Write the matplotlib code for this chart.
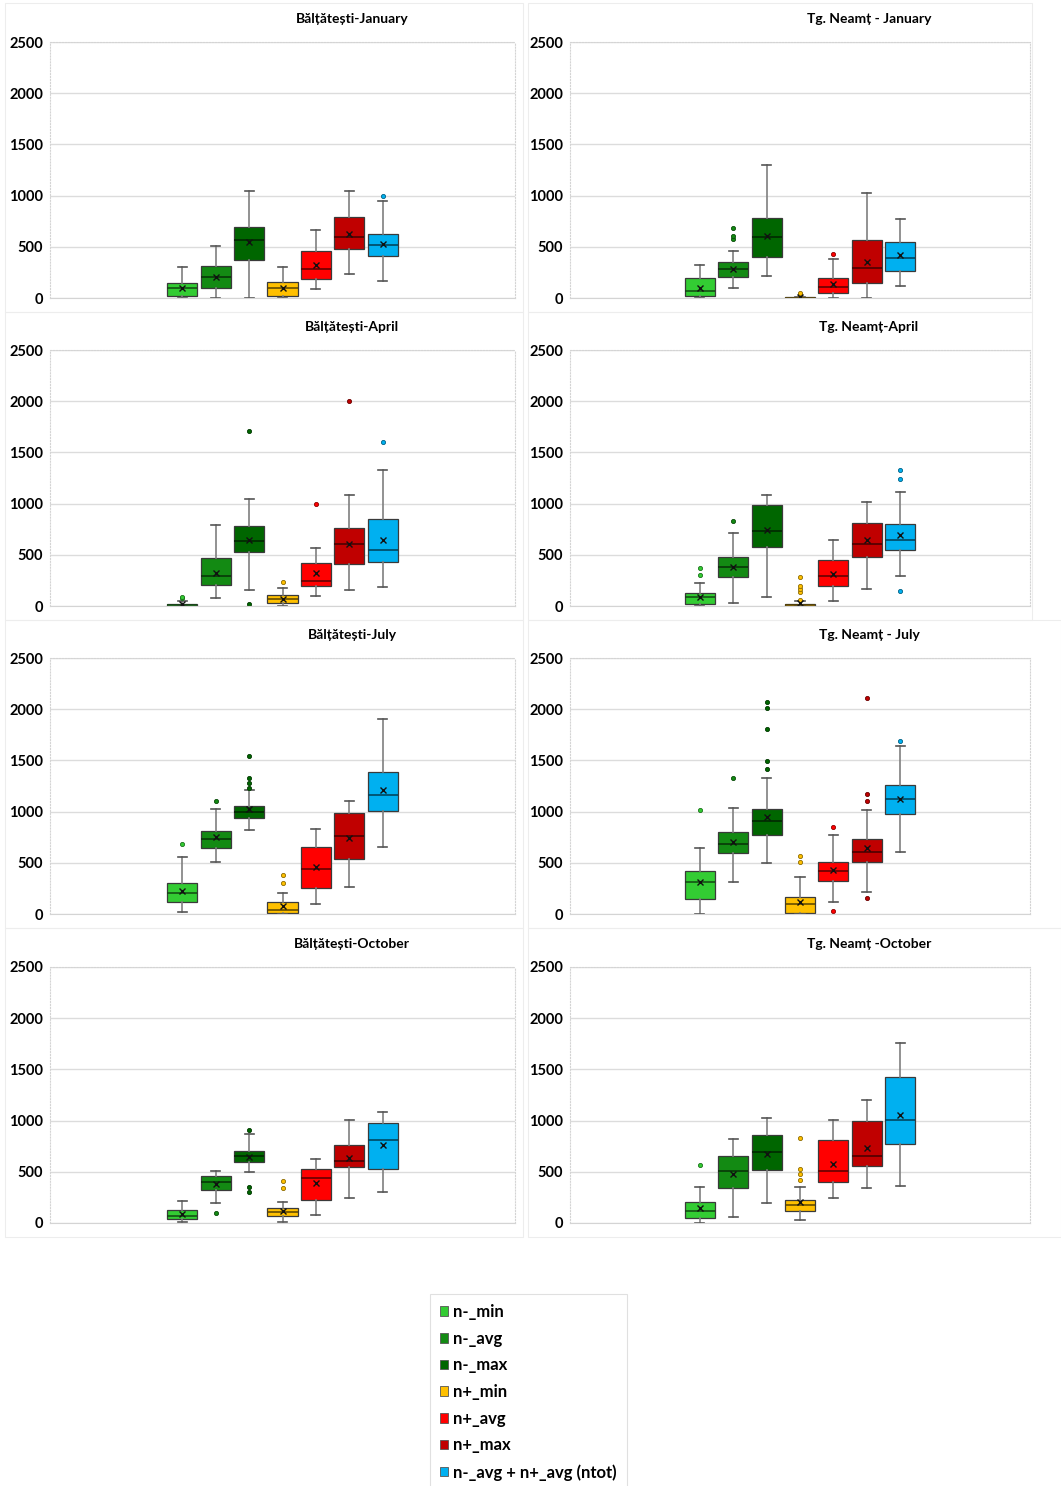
import matplotlib.pyplot as plt
from matplotlib.patches import Patch, Rectangle
from matplotlib.colors import to_rgb

plt.rcParams['font.family'] = ['Lato', 'DejaVu Sans']
plt.rcParams['font.weight'] = 'bold'

W, H = 1061, 1486

series = ['n-_min', 'n-_avg', 'n-_max', 'n+_min', 'n+_avg', 'n+_max', 'n-_avg + n+_avg (ntot)']
colors = ['#33CC33', '#138A13', '#006600', '#FFC000', '#FF0000', '#C00000', '#00B0F0']

# per series: whisker low, Q1, median, Q3, whisker high, mean
balt_jan = [[0, 23, 100, 148, 300, 97],
            [0, 94, 203, 310, 506, 206],
            [0, 371, 568, 690, 1042, 542],
            [0, 23, 97, 152, 300, 97],
            [84, 187, 281, 455, 668, 319],
            [239, 481, 597, 787, 1042, 629],
            [168, 413, 516, 629, 948, 529]]
balt_jan_out = [[], [], [], [], [], [], [994]]

neamt_jan = [[0, 16, 71, 194, 319, 100],
             [94, 203, 284, 348, 461, 287],
             [213, 400, 600, 777, 1294, 603],
             [0, 0, 0, 5, 10, 8],
             [0, 48, 106, 197, 377, 135],
             [0, 142, 290, 571, 1026, 348],
             [119, 261, 390, 542, 774, 416]]
neamt_jan_out = [[], [580, 610, 680], [], [20, 35, 45], [426], [], []]

balt_apr = [[0, 0, 5, 20, 45, 20],
            [77, 203, 297, 471, 794, 326],
            [161, 529, 636, 781, 1042, 645],
            [0, 32, 68, 103, 177, 71],
            [100, 197, 242, 416, 568, 319],
            [161, 406, 606, 761, 1084, 610],
            [187, 432, 542, 852, 1329, 648]]
balt_apr_out = [[75, 90], [], [19, 1707], [239], [997], [2006], [1603]]

neamt_apr = [[0, 23, 84, 127, 221, 91],
             [32, 279, 383, 481, 714, 383],
             [84, 578, 731, 990, 1088, 744],
             [0, 0, 10, 23, 45, 32],
             [52, 195, 289, 451, 643, 308],
             [166, 474, 604, 812, 1020, 643],
             [289, 542, 640, 796, 1117, 692]]
neamt_apr_out = [[299, 370], [828], [], [60, 136, 166, 192, 279], [], [], [149, 1237, 1325]]

balt_jul = [[23, 121, 206, 304, 556, 229],
            [510, 641, 735, 810, 1023, 748],
            [820, 941, 1000, 1059, 1212, 1026],
            [0, 13, 36, 118, 203, 75],
            [101, 255, 441, 650, 830, 461],
            [261, 536, 761, 990, 1105, 742],
            [657, 1007, 1163, 1386, 1902, 1209]]
balt_jul_out = [[683], [1105], [1235, 1281, 1327, 1542], [304, 382], [], [], []]

neamt_jul = [[0, 144, 310, 418, 644, 314],
             [317, 598, 686, 801, 1036, 699],
             [497, 775, 908, 1026, 1324, 948],
             [0, 7, 95, 163, 363, 114],
             [118, 320, 418, 503, 775, 428],
             [212, 503, 608, 732, 1016, 641],
             [605, 980, 1127, 1255, 1641, 1127]]
neamt_jul_out = [[1013], [1324], [1415, 1497, 1804, 2016, 2075], [510, 562],
                 [33, 846], [154, 1105, 1176, 2108], [1686]]

balt_oct = [[6, 36, 71, 127, 214, 84],
            [195, 321, 396, 455, 507, 377],
            [494, 597, 659, 708, 870, 649],
            [6, 68, 104, 143, 201, 120],
            [78, 221, 435, 532, 623, 393],
            [240, 542, 604, 763, 1010, 630],
            [305, 526, 812, 981, 1088, 763]]
balt_oct_out = [[], [101], [305, 347, 909], [344, 406], [], [], []]

neamt_oct = [[3, 49, 120, 205, 351, 143],
             [62, 341, 503, 653, 822, 481],
             [195, 520, 692, 860, 1029, 669],
             [32, 117, 175, 227, 351, 208],
             [240, 399, 503, 815, 1003, 575],
             [344, 555, 659, 994, 1198, 734],
             [360, 776, 1003, 1422, 1760, 1052]]
neamt_oct_out = [[571], [], [], [422, 474, 523, 831], [], [], []]

panels = [('Bălțătești-January', balt_jan, balt_jan_out),
          ('Tg. Neamț - January', neamt_jan, neamt_jan_out),
          ('Bălțătești-April', balt_apr, balt_apr_out),
          ('Tg. Neamț-April', neamt_apr, neamt_apr_out),
          ('Bălțătești-July', balt_jul, balt_jul_out),
          ('Tg. Neamț - July', neamt_jul, neamt_jul_out),
          ('Bălțătești-October', balt_oct, balt_oct_out),
          ('Tg. Neamț -October', neamt_oct, neamt_oct_out)]


def darker(c, f=0.55):
    r, g, b = to_rgb(c)
    return (r * f, g * f, b * f)


fig = plt.figure(figsize=(W / 100, H / 100), dpi=100)

# chart area frames (pixels: left, top, right, bottom)
frames = [(5, 3, 523, 312), (528, 3, 1032, 312),
          (5, 312, 523, 620), (528, 312, 1032, 620),
          (5, 620, 523, 928), (528, 620, 1061, 928),
          (5, 928, 523, 1237), (528, 928, 1061, 1237)]
for x0, y0, x1, y1 in frames:
    fig.add_artist(Rectangle((x0 / W, 1 - y1 / H), (x1 - x0) / W, (y1 - y0) / H,
                             transform=fig.transFigure, fill=False,
                             ec='#ededed', lw=0.8))

col_x = [(50, 465), (570, 460)]
row_bottom = [298, 606, 914, 1223]
plot_h = 256

for i, (title, stats, outs) in enumerate(panels):
    r, c = divmod(i, 2)
    x0, w = col_x[c]
    ax = fig.add_axes([x0 / W, 1 - row_bottom[r] / H, w / W, plot_h / H])

    for k, (row, fl) in enumerate(zip(stats, outs)):
        lo, q1, med, q3, hi, mean = row
        st = dict(whislo=lo, q1=q1, med=med, q3=q3, whishi=hi, mean=mean, fliers=fl)
        ax.bxp([st], positions=[k + 1], widths=0.9, capwidths=0.27,
               showmeans=True, patch_artist=True,
               boxprops=dict(facecolor=colors[k], edgecolor='#3a3a3a', lw=0.9),
               medianprops=dict(color=darker(colors[k], 0.35), lw=1.1),
               whiskerprops=dict(color='#7f7f7f', lw=1.2),
               capprops=dict(color='#555555', lw=1.2),
               meanprops=dict(marker='x', markersize=5, markeredgecolor='#111111',
                              markeredgewidth=1.0),
               flierprops=dict(marker='o', markersize=3, markerfacecolor=colors[k],
                               markeredgecolor=darker(colors[k]), markeredgewidth=0.6))

    ax.set_xlim(4 - w / 33.4 / 2, 4 + w / 33.4 / 2)
    ax.set_ylim(0, 2500)
    ax.set_yticks(range(0, 2501, 500))
    ax.set_xticks([])
    ax.yaxis.grid(True, color='#dcdcdc', lw=1.0)
    ax.set_axisbelow(True)
    ax.tick_params(axis='y', length=0, pad=5, labelsize=10.5)
    for s in ax.spines.values():
        s.set_color('#d4d4d4')
        s.set_linestyle(':')
        s.set_linewidth(0.8)
    ax.spines['bottom'].set_linestyle('-')
    ax.text(0.65, 1 + 23 / plot_h, title, transform=ax.transAxes,
            ha='center', va='center', fontsize=10, fontweight='bold')

handles = [Patch(facecolor=col, edgecolor='#555555', lw=0.6) for col in colors]
leg = fig.legend(handles, series, loc='upper left',
                 bbox_to_anchor=(430 / W, 1 - 1294 / H), borderaxespad=0,
                 prop=dict(size=12, weight='bold'),
                 handlelength=0.5, handleheight=0.5, handletextpad=0.3,
                 labelspacing=0.64, borderpad=0.6, fancybox=False,
                 edgecolor='#e0e0e0', framealpha=1)
leg.get_frame().set_linewidth(0.8)

fig.savefig('out.png', dpi=100, facecolor='white')
